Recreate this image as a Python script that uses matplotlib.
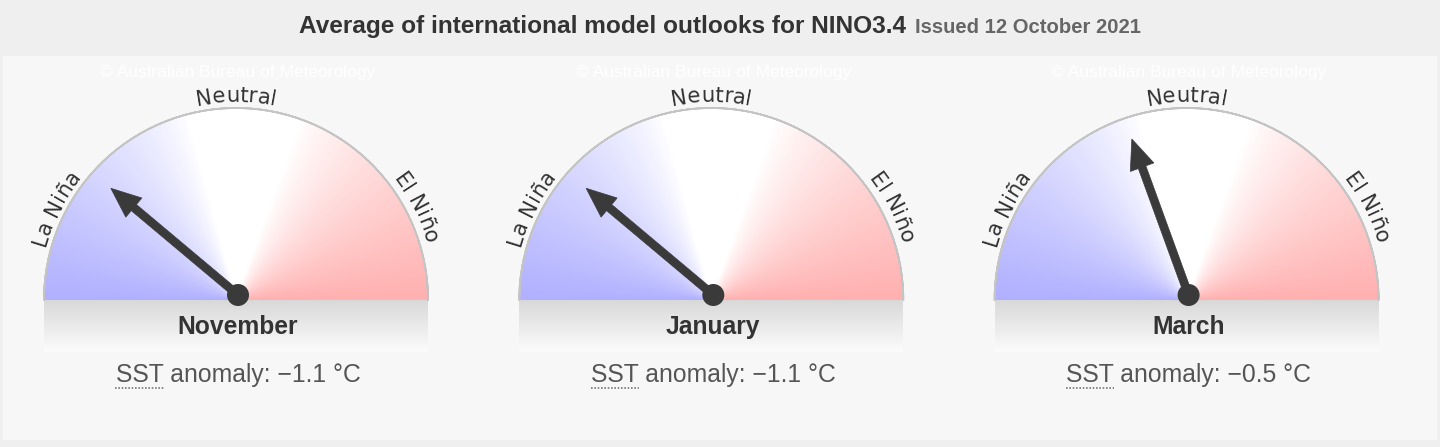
import numpy as np
import matplotlib.pyplot as plt
from matplotlib.patches import Wedge, Rectangle, Circle, FancyArrow
from matplotlib.font_manager import FontProperties
from matplotlib.textpath import TextToPath

# ---------------- data ----------------
months = ['November', 'January', 'March']
anomalies = [-1.1, -1.1, -0.5]          # SST anomaly, degC
title_main = 'Average of international model outlooks for NINO3.4'
title_issued = 'Issued 12 October 2021'
phase_labels = ['La Niña', 'Neutral', 'El Niño']
phase_angles = [153, 90, 27]            # where the labels sit on the dial (deg)

W, H = 1440, 447
PX = 100 / 72.0   # pixels per point

fig = plt.figure(figsize=(W / 100, H / 100), dpi=100, facecolor='#efefef')
ax = fig.add_axes([0, 0, 1, 1])
ax.set_xlim(0, W)
ax.set_ylim(H, 0)
ax.axis('off')

t2p = TextToPath()


def text_w(s, fp):
    w, h, d = t2p.get_text_width_height_descent(s, fp, ismath=False)
    return w * PX


def adv(c, fp):
    # rough advance width of one glyph
    return text_w('H' + c + 'H', fp) - text_w('HH', fp)


def arc_text(cx, cy, r, s, ang, fp, color):
    widths = [adv(c, fp) for c in s]
    total = sum(widths)
    pos = -total / 2.0
    for c, w in zip(s, widths):
        mid = pos + w / 2.0
        th = np.radians(ang) - mid / r
        ax.text(cx + r * np.cos(th), cy - r * np.sin(th), c, fontproperties=fp,
                color=color, ha='center', va='baseline',
                rotation=np.degrees(th) - 90, rotation_mode='anchor', zorder=4)
        pos += w


def needle_angle(a):
    return 85 - 50 * a


# panel background
ax.add_patch(Rectangle((3, 56), W - 6, 384, facecolor='#f7f7f7', edgecolor='none', zorder=0))

# title
fp_title = FontProperties(family='Liberation Sans', weight='bold', size=17.6)
fp_issued = FontProperties(family='Liberation Sans', weight='bold', size=14.6)
ax.text(906, 33, title_main, fontproperties=fp_title, color='#333333', ha='right', va='baseline')
ax.text(915, 33, title_issued, fontproperties=fp_issued, color='#666666', ha='left', va='baseline')

fp_lab = FontProperties(family='DejaVu Sans', size=15.3)
fp_month = FontProperties(family='Liberation Sans', weight='bold', size=17.7)
fp_sst = FontProperties(family='Liberation Sans', size=17.8)
fp_wm = FontProperties(family='Liberation Sans', size=12.5)

R = 192
CY = 300
blue = np.array([0.69, 0.69, 1.0])
red = np.array([1.0, 0.69, 0.69])

# angular colour field
n = 400
gx, gy = np.meshgrid(np.linspace(-1, 1, n), np.linspace(1, 0, n // 2))
theta = np.degrees(np.arctan2(gy, gx))
wb = np.clip((theta - 105) / 75.0, 0, 1) ** 0.8
wr = np.clip((70 - theta) / 70.0, 0, 1) ** 0.8
img = (1 - wb - wr)[..., None] * np.ones(3) + wb[..., None] * blue + wr[..., None] * red

band = np.linspace(0.85, 0.985, 60)[:, None, None] * np.ones((1, 2, 3))

for i, (month, a) in enumerate(zip(months, anomalies)):
    hx = 238 + i * 475.3
    cx = hx - 2

    # watermark
    ax.text(hx, 73, '\u00a9 Australian Bureau of Meteorology', fontproperties=fp_wm,
            color='white', ha='center', va='center', zorder=1)

    # shaded band under the dial
    ax.imshow(band, extent=[cx - R, cx + R, 352, CY], aspect='auto',
              interpolation='bilinear', zorder=1)

    # dial face (y axis is flipped, so the upper half is 180..360)
    clip = Wedge((cx, CY), R, 180, 360, facecolor='none', edgecolor='none')
    ax.add_patch(clip)
    im = ax.imshow(img, extent=[cx - R, cx + R, CY, CY - R], aspect='auto',
                   interpolation='bilinear', zorder=2)
    im.set_clip_path(clip)
    ax.add_patch(Wedge((cx, CY), R, 180, 360, width=0.001, facecolor='none',
                       edgecolor='#c4c4c4', linewidth=1.3, zorder=3))

    # phase labels along the rim
    for lab, ang in zip(phase_labels, phase_angles):
        arc_text(cx, CY, 198, lab, ang, fp_lab, '#333333')

    # needle
    th = np.radians(needle_angle(a))
    L = 166
    ax.add_patch(FancyArrow(hx, 295, L * np.cos(th), -L * np.sin(th), width=8,
                            head_width=25, head_length=30, length_includes_head=True,
                            facecolor='#3a3a3a', edgecolor='#3a3a3a', linewidth=0.5,
                            zorder=5))
    ax.add_patch(Circle((hx, 295), 11, facecolor='#3a3a3a', edgecolor='none', zorder=6))

    # month
    ax.text(hx, 327, month, fontproperties=fp_month, color='#333333',
            ha='center', va='center', zorder=7)

    # SST anomaly line
    s = 'SST anomaly: \u2212%.1f \u00b0C' % abs(a)
    ax.text(hx, 375, s, fontproperties=fp_sst, color='#555555', ha='center',
            va='center', zorder=7)
    tw = text_w(s, fp_sst)
    sw = text_w('SST', fp_sst)
    x0 = hx - tw / 2.0
    ax.plot([x0, x0 + sw], [388, 388], color='#777777', linewidth=1.2,
            linestyle=(0, (1, 1)), zorder=7)

fig.savefig('out.png', dpi=100, facecolor=fig.get_facecolor())
